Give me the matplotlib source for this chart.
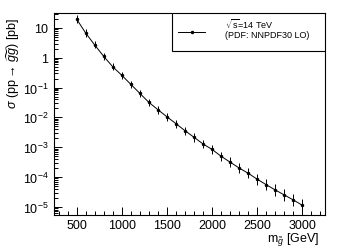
import matplotlib
matplotlib.use('Agg')
import matplotlib.pyplot as plt
from matplotlib.patches import Rectangle
from matplotlib.lines import Line2D
from matplotlib.ticker import FixedLocator, FixedFormatter, MultipleLocator, LogLocator, NullFormatter

plt.rcParams['font.family'] = ['Liberation Sans', 'DejaVu Sans']
plt.rcParams['mathtext.fontset'] = 'custom'
plt.rcParams['mathtext.rm'] = 'Liberation Sans'
plt.rcParams['mathtext.it'] = 'Liberation Sans:italic'
plt.rcParams['mathtext.sf'] = 'Liberation Sans'

# gluino mass [GeV] and cross section [pb]
mass = [500, 600, 700, 800, 900, 1000, 1100, 1200, 1300, 1400, 1500, 1600, 1700,
        1800, 1900, 2000, 2100, 2200, 2300, 2400, 2500, 2600, 2700, 2800, 2900, 3000]
xsec = [20.0, 6.8, 2.7, 1.12, 0.50, 0.259, 0.129, 0.064, 0.032, 0.0181, 0.0105,
        0.00615, 0.00358, 0.00215, 0.00128, 8.4e-4, 4.95e-4, 3.14e-4, 2.0e-4,
        1.33e-4, 8.4e-5, 5.5e-5, 3.66e-5, 2.49e-5, 1.69e-5, 1.12e-5]
# relative uncertainties (up / down)
rel_up = [0.32, 0.32, 0.32, 0.32, 0.32, 0.32, 0.33, 0.33, 0.34, 0.35, 0.36, 0.37, 0.38,
          0.39, 0.40, 0.42, 0.44, 0.46, 0.48, 0.50, 0.52, 0.54, 0.56, 0.58, 0.60, 0.62]
rel_dn = [0.24, 0.24, 0.24, 0.24, 0.24, 0.24, 0.25, 0.25, 0.25, 0.26, 0.26, 0.27, 0.27,
          0.28, 0.28, 0.29, 0.30, 0.31, 0.32, 0.33, 0.34, 0.35, 0.36, 0.37, 0.37, 0.38]

ytick_vals = [1e-5, 1e-4, 1e-3, 1e-2, 1e-1, 1, 10]
ytick_labels = ['$10^{-5}$', '$10^{-4}$', '$10^{-3}$', '$10^{-2}$', '$10^{-1}$', '1', '10']

fig = plt.figure(figsize=(3.39, 2.53), dpi=100)
ax = fig.add_axes([54/339, 37/253, 271/339, 202/253])

err = [[y*d for y, d in zip(xsec, rel_dn)], [y*u for y, u in zip(xsec, rel_up)]]
ax.errorbar(mass, xsec, yerr=err, fmt='-', color='black', lw=0.7,
            elinewidth=0.7, capsize=0, marker='.', markersize=3)

ax.set_yscale('log')
ax.set_xlim(250, 3250)
ax.set_ylim(5.3e-6, 31.8)

ax.yaxis.set_major_locator(FixedLocator(ytick_vals))
ax.yaxis.set_major_formatter(FixedFormatter(ytick_labels))
ax.yaxis.set_minor_locator(LogLocator(base=10, subs=range(2, 10), numticks=20))
ax.yaxis.set_minor_formatter(NullFormatter())
ax.xaxis.set_major_locator(MultipleLocator(500))
ax.xaxis.set_minor_locator(MultipleLocator(100))

ax.tick_params(which='both', direction='in', top=False, right=False, labelsize=9)
ax.tick_params(which='major', length=6, width=0.7)
ax.tick_params(which='minor', length=3, width=0.7)
ax.tick_params(axis='x', pad=3)
ax.tick_params(axis='y', pad=4)
for s in ax.spines.values():
    s.set_linewidth(0.8)

ax.set_ylabel(r'$\sigma$ (pp$\rightarrow\,\widetilde{gg}$) [pb]', fontsize=9, loc='top')
ax.yaxis.set_label_coords(-0.118, 0.98)
ax.set_xlabel(r'm$_{\tilde{g}}$ [GeV]', fontsize=9, loc='right')
ax.xaxis.set_label_coords(0.98, -0.075)

# legend box
ax.add_patch(Rectangle((0.435, 0.812), 0.565, 0.188, transform=ax.transAxes,
                       facecolor='white', edgecolor='black', lw=0.8, zorder=5))
ax.add_line(Line2D([0.458, 0.557], [0.907, 0.907], transform=ax.transAxes,
                   color='black', lw=0.7, zorder=6))
ax.add_line(Line2D([0.5075], [0.907], transform=ax.transAxes, color='black',
                   marker='.', markersize=3, zorder=6))
ax.text(0.631, 0.928, '$\\sqrt{\\mathrm{s}}$=14 TeV\n(PDF: NNPDF30 LO)',
        transform=ax.transAxes, fontsize=6.5, va='center', ha='left',
        linespacing=1.0, zorder=7)

plt.savefig('out.png', dpi=100)
